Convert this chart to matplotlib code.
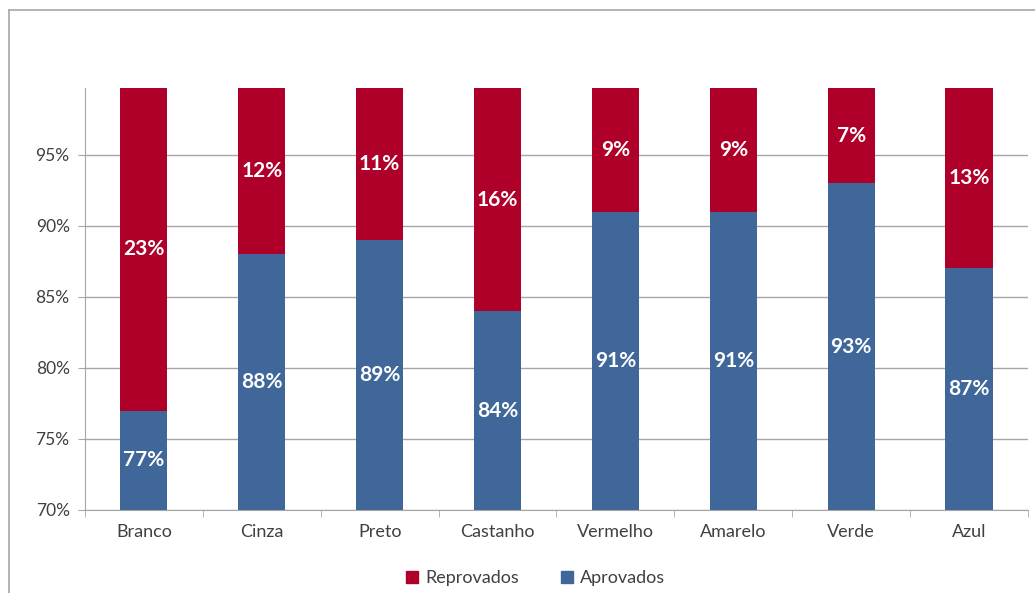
import numpy as np
import matplotlib
matplotlib.use("Agg")
import matplotlib.pyplot as plt
from matplotlib.lines import Line2D
from matplotlib.ticker import PercentFormatter

categories = ["Branco", "Cinza", "Preto", "Castanho", "Vermelho", "Amarelo", "Verde", "Azul"]
aprovados = [77, 88, 89, 84, 91, 91, 93, 87]
reprovados = [23, 12, 11, 16, 9, 9, 7, 13]

red = "#AE0028"
blue = "#3F679A"
ymin, ymax = 70, 99.7

plt.rcParams['font.family'] = ['Lato', 'DejaVu Sans']

fig = plt.figure(figsize=(10.35, 5.93), dpi=100)
ax = fig.add_axes([0.0821, 0.14, 0.9111, 0.7116])

x = np.arange(len(categories))
ax.bar(x, aprovados, width=0.4, color=blue, zorder=3)
ax.bar(x, reprovados, width=0.4, bottom=aprovados, color=red, zorder=3)

# labels centred in the visible part of each segment
for i in range(len(categories)):
    mid_a = (ymin + aprovados[i]) / 2
    top = min(aprovados[i] + reprovados[i], ymax)
    mid_r = (aprovados[i] + top) / 2
    ax.text(x[i], mid_a, f"{aprovados[i]}%", ha="center", va="center",
            color="white", fontsize=15, fontweight="bold", zorder=4)
    ax.text(x[i], mid_r, f"{reprovados[i]}%", ha="center", va="center",
            color="white", fontsize=15, fontweight="bold", zorder=4)

ax.set_xlim(-0.5, len(categories) - 0.5)
ax.set_ylim(ymin, ymax)
ax.set_yticks(np.arange(70, 100, 5))
ax.yaxis.set_major_formatter(PercentFormatter(decimals=0))
ax.set_xticks(x)
ax.set_xticklabels(categories)
ax.set_xticks(np.arange(-0.5, len(categories)), minor=True)
ax.tick_params(axis="x", which="major", length=0, pad=10, labelsize=13, labelcolor="#404040")
ax.tick_params(axis="x", which="minor", length=5, color="#A6A6A6")
ax.tick_params(axis="y", length=5, color="#A6A6A6", labelsize=12.5, labelcolor="#404040", pad=6)
ax.grid(axis="y", color="#A6A6A6", linewidth=1, zorder=0)

for side in ["top", "right"]:
    ax.spines[side].set_visible(False)
for side in ["left", "bottom"]:
    ax.spines[side].set_color("#A6A6A6")

handles = [Line2D([], [], marker="s", linestyle="none", color=red, markersize=8),
           Line2D([], [], marker="s", linestyle="none", color=blue, markersize=8)]
fig.legend(handles, ["Reprovados", "Aprovados"], loc="center", bbox_to_anchor=(0.517, 0.025),
           ncol=2, frameon=False, fontsize=13, handlelength=0.8, handletextpad=0.3,
           columnspacing=2.3, labelcolor="#404040")

# outer frame lines
fig.add_artist(Line2D([9 / 1035, 1.0], [1 - 10 / 593, 1 - 10 / 593], color="#A6A6A6", linewidth=1.2))
fig.add_artist(Line2D([9 / 1035, 9 / 1035], [0, 1 - 10 / 593], color="#A6A6A6", linewidth=1.2))

fig.savefig("out.png", dpi=100)
